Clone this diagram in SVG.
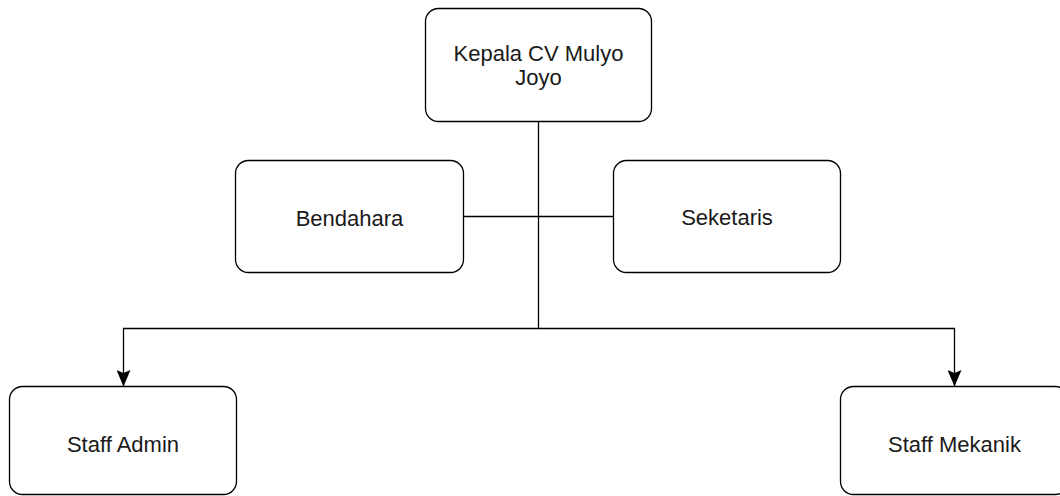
<svg xmlns="http://www.w3.org/2000/svg" width="1060" height="496" viewBox="0 0 1060 496">
<style>
.box{fill:#fff;stroke:#000;stroke-width:1.3}
.lbl{font-family:"Liberation Sans",Arial,sans-serif;font-size:22px;fill:#1a1a1a;text-anchor:middle}
.ln{fill:none;stroke:#000;stroke-width:1.3}
</style>
<defs>
<marker id="arr" markerWidth="17" markerHeight="14" refX="16.5" refY="7" orient="auto" markerUnits="userSpaceOnUse" viewBox="0 0 17 14">
<path d="M0,0 L16.5,7 L0,14 L3,7 Z" fill="#000"/>
</marker>
</defs>
<rect width="1060" height="496" fill="#fff"/>
<g id="connectors">
<path class="ln" d="M538.5,121.5 V328.5"/>
<path class="ln" d="M463.5,216.5 H613.5"/>
<path class="ln" d="M538.5,328.5 H123.5 V386.5" marker-end="url(#arr)"/>
<path class="ln" d="M538.5,328.5 H954.5 V386.5" marker-end="url(#arr)"/>
</g>
<g id="kepala">
<rect class="box" x="425.5" y="8.5" width="226" height="113" rx="13"/>
<text class="lbl" x="538.5" y="60.5">Kepala CV Mulyo</text>
<text class="lbl" x="538.5" y="85">Joyo</text>
</g>
<g id="bendahara">
<rect class="box" x="235.5" y="160.5" width="228" height="112" rx="13"/>
<text class="lbl" x="349.5" y="225.5">Bendahara</text>
</g>
<g id="seketaris">
<rect class="box" x="613.5" y="160.5" width="227" height="112" rx="13"/>
<text class="lbl" x="727" y="225">Seketaris</text>
</g>
<g id="staff-admin">
<rect class="box" x="9.5" y="386.5" width="227" height="108" rx="13"/>
<text class="lbl" x="123" y="451.5">Staff Admin</text>
</g>
<g id="staff-mekanik">
<rect class="box" x="840.5" y="386.5" width="228" height="108" rx="13"/>
<text class="lbl" x="954.5" y="451.5">Staff Mekanik</text>
</g>
</svg>
